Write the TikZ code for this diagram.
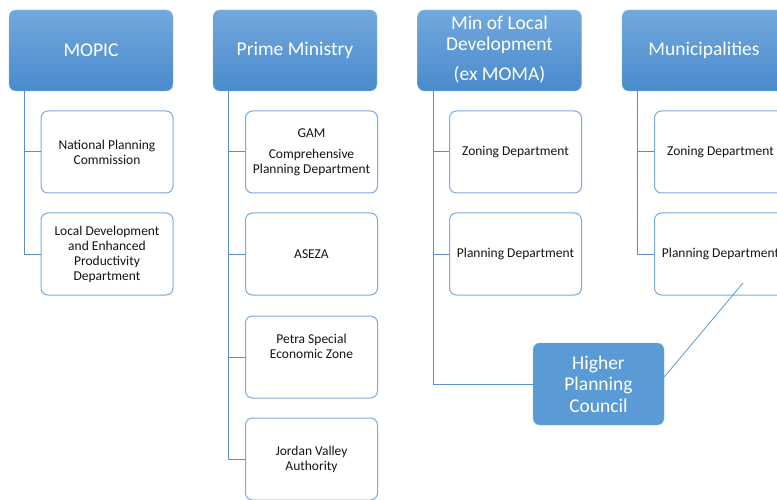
\documentclass[tikz,border=0pt]{standalone}
\usepackage{fontspec}
\setmainfont{Carlito}
\definecolor{topA}{HTML}{72A8DD}
\definecolor{topB}{HTML}{4A8BCC}
\definecolor{childline}{HTML}{7AAADF}
\definecolor{conn}{HTML}{5A8CC6}
\definecolor{hpcfill}{HTML}{5B9BD5}
\definecolor{txt}{HTML}{141414}
\begin{document}
\begin{tikzpicture}[x=1pt,y=-1pt,
  headbox/.style={rectangle, rounded corners=7pt, top color=topA, bottom color=topB,
    draw=topA!80!white, line width=0.4pt, minimum width=164pt, minimum height=81pt,
    text=white, font=\fontsize{19.5}{21}\selectfont, align=center, inner sep=0pt},
  childbox/.style={rectangle, rounded corners=7pt, fill=white, draw=childline,
    line width=1pt, minimum width=132pt, minimum height=82pt,
    text=txt, font=\fontsize{13.5}{15}\selectfont, align=center, inner sep=0pt},
  lbl/.style={text=txt, font=\fontsize{13.5}{15}\selectfont, align=center, inner sep=0pt},
  conline/.style={draw=conn, line width=1pt},
  hpcbox/.style={rectangle, rounded corners=7pt, fill=hpcfill, draw=hpcfill!80!white,
    minimum width=131pt, minimum height=82pt, text=white,
    font=\fontsize{19.5}{21.5}\selectfont, align=center, inner sep=0pt}]
\useasboundingbox (0,0) rectangle (777,500);
\clip (0,0) rectangle (777,500);

% head boxes
\node[headbox] (mopic) at (91,50.5) {MOPIC};
\node[headbox] (prime) at (295,50.5) {Prime Ministry};
\node[headbox] (minloc) at (499.5,50.5) {};
\node[text=white, font=\fontsize{19.5}{21}\selectfont, align=center, inner sep=0pt] (minlocA) at (499.5,34.5) {Min of Local\\Development};
\node[text=white, font=\fontsize{19.5}{21}\selectfont, inner sep=0pt] (minlocB) at (499.5,75) {(ex MOMA)};
\node[headbox] (munic) at (704,50.5) {Municipalities};

% MOPIC children
\node[childbox] (ncp) at (107,152) {National Planning\\Commission};
\node[childbox] (ldep) at (107,254) {Local Development\\and Enhanced\\Productivity\\Department};

% Prime Ministry children
\node[childbox] (gam) at (311.5,152) {};
\node[lbl] (gamA) at (311.5,133) {GAM};
\node[lbl] (gamB) at (311.5,162.5) {Comprehensive\\Planning Department};
\node[childbox] (aseza) at (311.5,254) {ASEZA};
\node[childbox] (petra) at (311.5,357) {};
\node[lbl] (petraA) at (311.5,346.5) {Petra Special\\Economic Zone};
\node[childbox] (jva) at (311.5,459) {Jordan Valley\\Authority};

% Min of Local children
\node[childbox] (zone1) at (515.5,152) {Zoning Department};
\node[childbox] (plan1) at (515.5,254) {Planning Department};

% Municipalities children
\node[childbox] (zone2) at (720.5,152) {Zoning Department};
\node[childbox] (plan2) at (720.5,254) {Planning Department};

% Higher Planning Council
\node[hpcbox] (hpc) at (598.5,384) {Higher\\Planning\\Council};

% connectors
\draw[conline] ([xshift=16pt]mopic.south west) |- (ncp.west);
\draw[conline] ([xshift=16pt]mopic.south west) |- (ldep.west);
\draw[conline] ([xshift=16pt]prime.south west) |- (gam.west);
\draw[conline] ([xshift=16pt]prime.south west) |- (aseza.west);
\draw[conline] ([xshift=16pt]prime.south west) |- (petra.west);
\draw[conline] ([xshift=16pt]prime.south west) |- (jva.west);
\draw[conline] ([xshift=16pt]minloc.south west) |- (zone1.west);
\draw[conline] ([xshift=16pt]minloc.south west) |- (plan1.west);
\draw[conline] ([xshift=16pt]minloc.south west) |- (hpc.west);
\draw[conline] ([xshift=16pt]munic.south west) |- (zone2.west);
\draw[conline] ([xshift=16pt]munic.south west) |- (plan2.west);
\coordinate (hpcend) at (743,283);
\draw[draw=hpcfill, line width=0.8pt] ([yshift=7pt]hpc.east) -- (hpcend);
\end{tikzpicture}
\end{document}
